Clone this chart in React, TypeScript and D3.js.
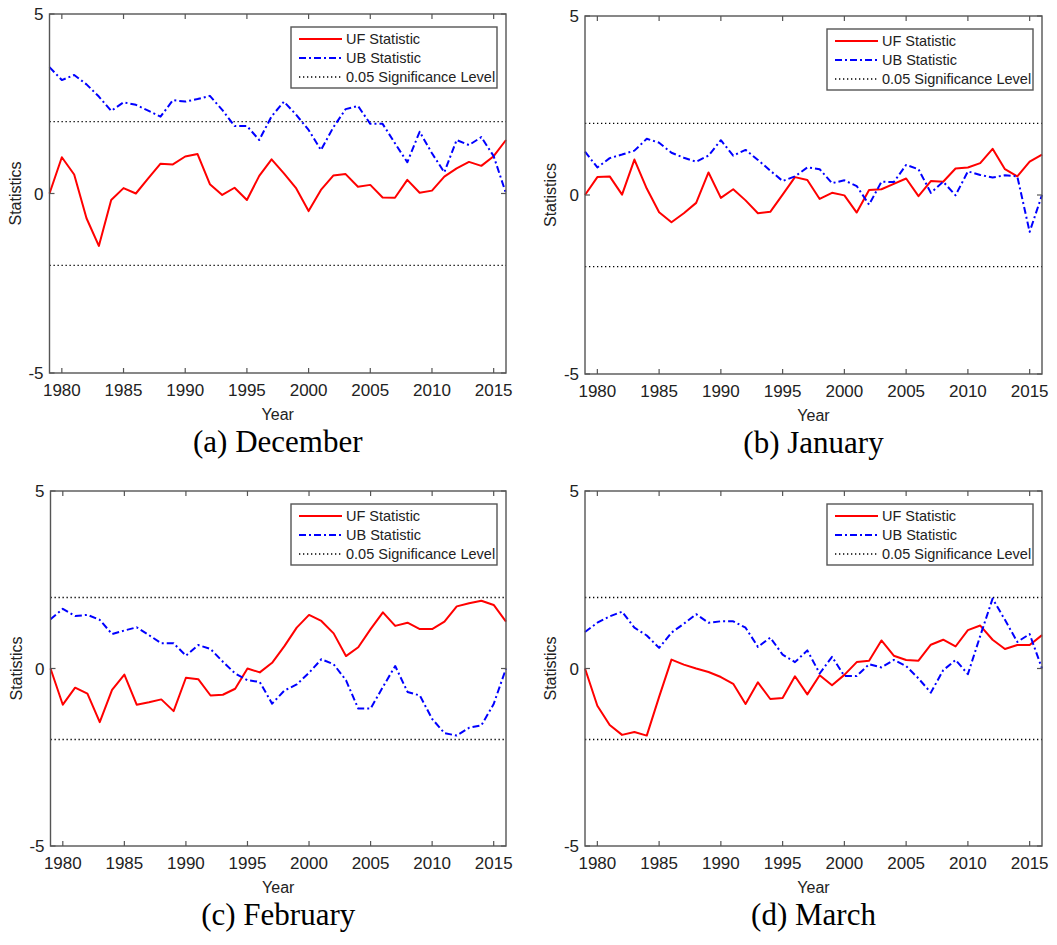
import * as d3 from 'd3';

// x categories: one value per winter year
const years = [
  1979, 1980, 1981, 1982, 1983, 1984, 1985, 1986, 1987, 1988, 1989, 1990, 1991,
  1992, 1993, 1994, 1995, 1996, 1997, 1998, 1999, 2000, 2001, 2002, 2003, 2004,
  2005, 2006, 2007, 2008, 2009, 2010, 2011, 2012, 2013, 2014, 2015, 2016,
];
const yearTicks = [1980, 1985, 1990, 1995, 2000, 2005, 2010, 2015];
const statTicks = [-5, 0, 5];
const sigLevels = [-2, 2];

// (a) December
const decUF = [
  0, 1.01, 0.53, -0.69, -1.46, -0.18, 0.15, 0.0, 0.42, 0.83, 0.81, 1.03, 1.1,
  0.26, -0.04, 0.16, -0.18, 0.49, 0.95, 0.56, 0.14, -0.49, 0.1, 0.5, 0.54, 0.19,
  0.24, -0.11, -0.12, 0.38, 0.02, 0.08, 0.47, 0.7, 0.88, 0.77, 1.04, 1.49,
];
const decUB = [
  3.52, 3.16, 3.3, 3.04, 2.7, 2.3, 2.54, 2.47, 2.31, 2.14, 2.6, 2.56, 2.63, 2.72,
  2.33, 1.88, 1.88, 1.49, 2.15, 2.56, 2.19, 1.77, 1.21, 1.84, 2.35, 2.44, 1.94,
  1.94, 1.4, 0.87, 1.72, 1.12, 0.59, 1.49, 1.35, 1.57, 1.04, 0,
];

// (b) January
const janUF = [
  0, 0.5, 0.52, 0.01, 0.99, 0.18, -0.48, -0.76, -0.51, -0.22, 0.63, -0.08, 0.16,
  -0.15, -0.51, -0.47, 0.01, 0.5, 0.42, -0.11, 0.06, -0.01, -0.49, 0.14, 0.16,
  0.31, 0.46, -0.03, 0.39, 0.37, 0.74, 0.77, 0.89, 1.29, 0.72, 0.52, 0.93, 1.13,
];
const janUB = [
  1.21, 0.77, 1.03, 1.13, 1.24, 1.57, 1.46, 1.18, 1.04, 0.93, 1.1, 1.53, 1.1,
  1.26, 0.98, 0.68, 0.39, 0.52, 0.77, 0.72, 0.33, 0.41, 0.25, -0.27, 0.37, 0.36,
  0.84, 0.72, 0.06, 0.37, -0.01, 0.66, 0.56, 0.49, 0.55, 0.52, -1.03, 0,
];

// (c) February
const febUF = [
  0, -1.02, -0.54, -0.71, -1.51, -0.6, -0.17, -1.02, -0.95, -0.87, -1.2, -0.26,
  -0.3, -0.76, -0.74, -0.57, 0, -0.11, 0.16, 0.63, 1.15, 1.51, 1.34, 0.99, 0.35,
  0.6, 1.11, 1.58, 1.2, 1.29, 1.11, 1.11, 1.32, 1.75, 1.84, 1.91, 1.79, 1.32,
];
const febUB = [
  1.39, 1.68, 1.48, 1.51, 1.37, 0.97, 1.07, 1.16, 0.94, 0.71, 0.71, 0.36, 0.66,
  0.55, 0.19, -0.14, -0.33, -0.38, -0.99, -0.62, -0.45, -0.12, 0.26, 0.12,
  -0.33, -1.13, -1.13, -0.52, 0.07, -0.66, -0.76, -1.42, -1.82, -1.89, -1.67,
  -1.6, -1.0, 0,
];

// (d) March
const marUF = [
  0, -1.05, -1.59, -1.87, -1.79, -1.89, -0.8, 0.25, 0.11, 0, -0.1, -0.24, -0.43,
  -1.0, -0.39, -0.86, -0.83, -0.22, -0.73, -0.19, -0.47, -0.18, 0.18, 0.22,
  0.79, 0.36, 0.24, 0.22, 0.67, 0.81, 0.62, 1.08, 1.21, 0.81, 0.55, 0.66, 0.66,
  0.94,
];
const marUB = [
  1.03, 1.29, 1.47, 1.6, 1.15, 0.93, 0.58, 1.01, 1.26, 1.53, 1.29, 1.33, 1.33,
  1.15, 0.61, 0.87, 0.39, 0.18, 0.51, -0.14, 0.33, -0.21, -0.21, 0.12, 0.03,
  0.24, 0.07, -0.28, -0.68, -0.05, 0.24, -0.16, 0.92, 1.97, 1.37, 0.75, 0.97, 0,
];

const legendLabels = ['UF Statistic', 'UB Statistic', '0.05 Significance Level'];

const SANS = "'Liberation Sans', Arial, sans-serif";
const SERIF = "'Liberation Serif', 'Times New Roman', serif";
const AXIS = '#555';
const TEXT = '#222';
const UF_COLOR = '#ff0000';
const UB_COLOR = '#0000ff';
const DASHDOT = '7,3,2,3';
const DOTTED = '1.3,2.7';

interface PanelProps {
  left: number;
  top: number;
  width: number;
  height: number;
  uf: number[];
  ub: number[];
  caption: string;
}

function Panel({ left, top, width, height, uf, ub, caption }: PanelProps) {
  const x = d3.scaleLinear().domain([1979, 2016]).range([0, width]);
  const y = d3.scaleLinear().domain([-5, 5]).range([height, 0]);
  const line = d3
    .line<number>()
    .x((_, i) => x(years[i]))
    .y((d) => y(d));

  const tick = 5;
  const legendW = 206;
  const legendX = width - 9 - legendW;
  const legendY = 13;
  const rowY = [25, 44, 63];
  const legendStyles = [
    { stroke: UF_COLOR, dash: undefined, width: 2 },
    { stroke: UB_COLOR, dash: DASHDOT, width: 2 },
    { stroke: '#000', dash: DOTTED, width: 1.3 },
  ];

  return (
    <g transform={`translate(${left},${top})`}>
      {sigLevels.map((s) => (
        <line
          key={s}
          x1={0}
          x2={width}
          y1={y(s)}
          y2={y(s)}
          stroke="#000"
          strokeWidth={1.3}
          strokeDasharray={DOTTED}
        />
      ))}
      <path d={line(uf) ?? ''} fill="none" stroke={UF_COLOR} strokeWidth={2} strokeLinejoin="round" />
      <path
        d={line(ub) ?? ''}
        fill="none"
        stroke={UB_COLOR}
        strokeWidth={2}
        strokeDasharray={DASHDOT}
        strokeLinejoin="round"
      />

      {/* box with inward ticks, MATLAB style */}
      <rect x={0} y={0} width={width} height={height} fill="none" stroke={AXIS} strokeWidth={1.4} />
      {yearTicks.map((t) => (
        <g key={t}>
          <line x1={x(t)} x2={x(t)} y1={height} y2={height - tick} stroke={AXIS} strokeWidth={1.2} />
          <line x1={x(t)} x2={x(t)} y1={0} y2={tick} stroke={AXIS} strokeWidth={1.2} />
          <text
            x={x(t)}
            y={height + 23}
            textAnchor="middle"
            fontFamily={SANS}
            fontSize={17}
            fill={TEXT}
          >
            {t}
          </text>
        </g>
      ))}
      {statTicks.map((t) => (
        <g key={t}>
          <line x1={0} x2={tick} y1={y(t)} y2={y(t)} stroke={AXIS} strokeWidth={1.2} />
          <line x1={width} x2={width - tick} y1={y(t)} y2={y(t)} stroke={AXIS} strokeWidth={1.2} />
          <text
            x={-6}
            y={y(t)}
            dy="0.36em"
            textAnchor="end"
            fontFamily={SANS}
            fontSize={17}
            fill={TEXT}
          >
            {t}
          </text>
        </g>
      ))}

      <text
        x={width / 2}
        y={height + 47}
        textAnchor="middle"
        fontFamily={SANS}
        fontSize={16}
        fill={TEXT}
      >
        Year
      </text>
      <text
        transform={`translate(${-29},${height / 2}) rotate(-90)`}
        textAnchor="middle"
        fontFamily={SANS}
        fontSize={16}
        fill={TEXT}
      >
        Statistics
      </text>

      {/* legend */}
      <g transform={`translate(${legendX},${legendY})`}>
        <rect x={0} y={0} width={legendW} height={61} fill="#fff" stroke={AXIS} strokeWidth={1.4} />
        {legendLabels.map((label, i) => (
          <g key={label}>
            <line
              x1={8}
              x2={51}
              y1={rowY[i] - legendY}
              y2={rowY[i] - legendY}
              stroke={legendStyles[i].stroke}
              strokeWidth={legendStyles[i].width}
              strokeDasharray={legendStyles[i].dash}
            />
            <text
              x={55}
              y={rowY[i] - legendY + 5}
              fontFamily={SANS}
              fontSize={14.5}
              fill={TEXT}
            >
              {label}
            </text>
          </g>
        ))}
      </g>

      <text
        x={width / 2}
        y={height + 79}
        textAnchor="middle"
        fontFamily={SERIF}
        fontSize={31}
        fill="#000"
      >
        {caption}
      </text>
    </g>
  );
}

export default function App() {
  return (
    <svg
      width={1057}
      height={945}
      viewBox="0 0 1057 945"
      style={{ position: 'absolute', left: 0, top: 0, background: '#fff' }}
    >
      <rect width={1057} height={945} fill="#fff" />
      <Panel left={49.5} top={14} width={456.5} height={359} uf={decUF} ub={decUB} caption="(a) December" />
      <Panel left={585} top={16} width={457} height={358} uf={janUF} ub={janUB} caption="(b) January" />
      <Panel left={50.5} top={491} width={455.5} height={355} uf={febUF} ub={febUB} caption="(c) February" />
      <Panel left={585} top={491} width={457} height={355} uf={marUF} ub={marUB} caption="(d) March" />
    </svg>
  );
}
